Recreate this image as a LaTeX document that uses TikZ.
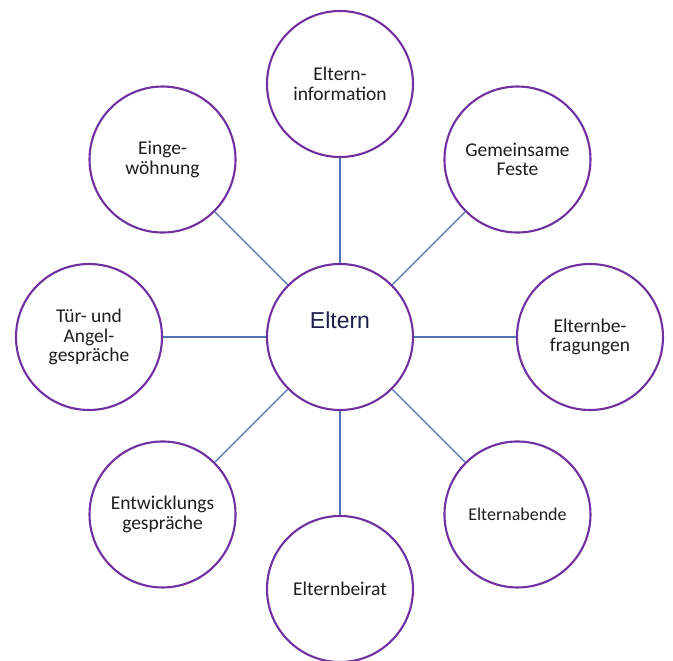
\documentclass[tikz,border=0pt]{standalone}
\usepackage{fontspec}
\setmainfont{Carlito}
\newfontfamily\hubfont{Liberation Sans}
\usetikzlibrary{positioning}

\definecolor{ringpurple}{HTML}{7030A0}
\definecolor{linkblue}{HTML}{4F73B6}
\definecolor{textgray}{HTML}{1E1E1E}
\definecolor{hubnavy}{HTML}{1F1F4D}

\tikzset{
  topic/.style={circle, draw=ringpurple, line width=2.1pt, fill=white,
    minimum size=146pt, inner sep=0pt, align=center, text=textgray,
    font=\fontsize{19.5}{19.5}\selectfont},
  hub/.style={topic, text=hubnavy, font=\hubfont\fontsize{23}{23}\selectfont,
    text depth=34pt},
  link/.style={draw=linkblue, line width=1.2pt}
}

\begin{document}
\begin{tikzpicture}[x=1pt, y=1pt]
    \useasboundingbox (-340,-324) rectangle (333,337);

    % Hub in the middle
    \coordinate (M) at (0,0);
    \node[hub] (eltern) at (M) {Eltern};

    % Ring of topics, clockwise from the top
    \node[topic] (info) at (90:253) {Eltern-\\information};
    \node[topic] (feste) at (45:251) {Gemeinsame\\Feste};
    \node[topic] (befragung) at (0:250) {Elternbe-\\fragungen};
    \node[topic, font=\fontsize{18}{19}\selectfont] (abende) at (-45:251) {Elternabende};
    \node[topic] (beirat) at (-90:252) {Elternbeirat};
    \node[topic] (entwicklung) at (-135:251) {Entwicklungs\\gespräche};
    \node[topic] (tuer) at (180:251) {Tür- und\\Angel-\\gespräche};
    \node[topic] (eingewoehnung) at (135:251) {Einge-\\wöhnung};

    % Spokes
    \foreach \n in {info,feste,befragung,abende,beirat,entwicklung,tuer,eingewoehnung}
      \draw[link] (eltern) -- (\n);
\end{tikzpicture}
\end{document}
